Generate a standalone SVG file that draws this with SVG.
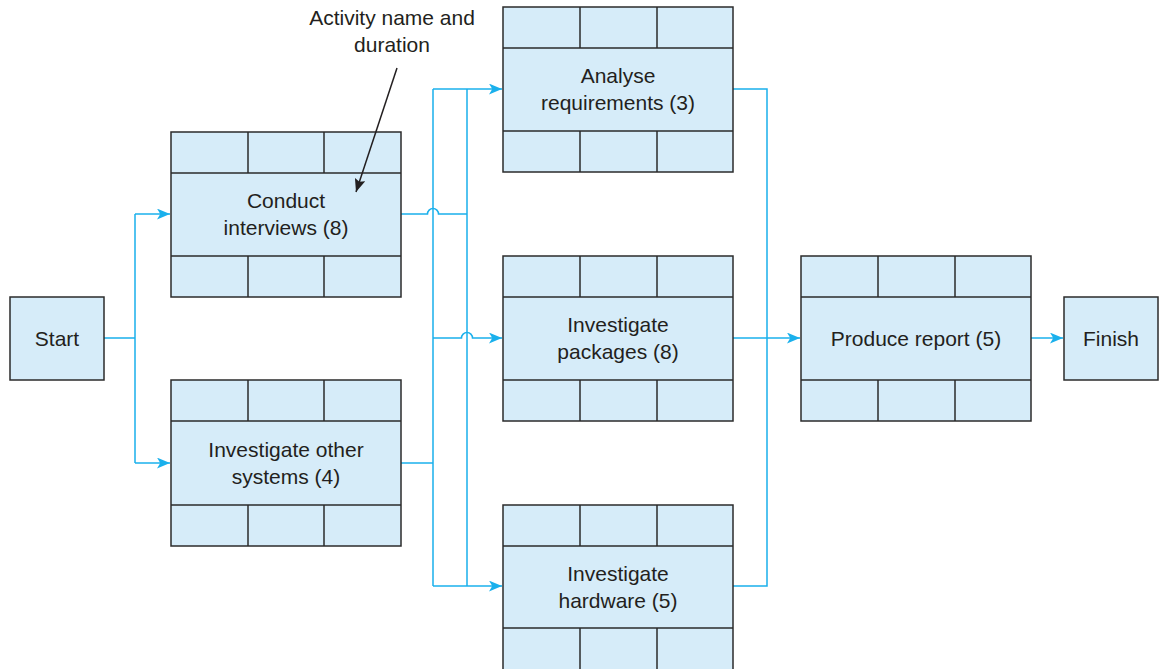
<svg xmlns="http://www.w3.org/2000/svg" width="1159" height="669" viewBox="0 0 1159 669">
<style>
.box{fill:#d6ecf9;stroke:#2b2b2b;stroke-width:1.5}
.div{stroke:#2b2b2b;stroke-width:1.5;fill:none}
.t{font-family:"Liberation Sans",Arial,sans-serif;font-size:21px;fill:#231f20;text-anchor:middle}
.c{fill:none;stroke:#1ab0ec;stroke-width:1.5}
</style>
<defs>
<marker id="ah" viewBox="0 0 12 10" refX="12" refY="5" markerWidth="13" markerHeight="11" markerUnits="userSpaceOnUse" orient="auto">
<path d="M0,0 L12,5 L0,10 L3,5 Z" fill="#1ab0ec"/>
</marker>
<marker id="bh" viewBox="0 0 12 10" refX="12" refY="5" markerWidth="13" markerHeight="11" markerUnits="userSpaceOnUse" orient="auto">
<path d="M0,0 L12,5 L0,10 L2,5 Z" fill="#231f20"/>
</marker>
</defs>
<rect width="1159" height="669" fill="#ffffff"/>

<g id="connectors">
<path class="c" d="M104,338 H135 M135,214 V463"/>
<path class="c" d="M135,214 H170" marker-end="url(#ah)"/>
<path class="c" d="M135,463 H170" marker-end="url(#ah)"/>
<path class="c" d="M401,214 H427.5 A5.5,5.5 0 0 1 438.5,214 H467"/>
<path class="c" d="M401,463 H433"/>
<path class="c" d="M433,89 V586 M467,89 V586"/>
<path class="c" d="M433,89 H502" marker-end="url(#ah)"/>
<path class="c" d="M433,338 H461.5 A5.5,5.5 0 0 1 472.5,338 H502" marker-end="url(#ah)"/>
<path class="c" d="M433,586 H502" marker-end="url(#ah)"/>
<path class="c" d="M733,89 H767 V586 H733"/>
<path class="c" d="M733,338 H800" marker-end="url(#ah)"/>
<path class="c" d="M1031,338 H1063" marker-end="url(#ah)"/>
</g>

<g id="start">
<rect class="box" x="10" y="297" width="94" height="83"/>
<text class="t" x="57" y="346">Start</text>
</g>

<g id="conduct">
<rect class="box" x="171" y="132" width="230" height="165"/>
<path class="div" d="M171,173 H401 M171,256 H401 M248,132 V173 M324,132 V173 M248,256 V297 M324,256 V297"/>
<text class="t" x="286" y="208">Conduct</text>
<text class="t" x="286" y="235">interviews (8)</text>
</g>

<g id="other">
<rect class="box" x="171" y="380" width="230" height="166"/>
<path class="div" d="M171,421 H401 M171,505 H401 M248,380 V421 M324,380 V421 M248,505 V546 M324,505 V546"/>
<text class="t" x="286" y="457">Investigate other</text>
<text class="t" x="286" y="484">systems (4)</text>
</g>

<g id="analyse">
<rect class="box" x="503" y="7" width="230" height="165"/>
<path class="div" d="M503,48 H733 M503,131 H733 M580,7 V48 M657,7 V48 M580,131 V172 M657,131 V172"/>
<text class="t" x="618" y="83">Analyse</text>
<text class="t" x="618" y="110">requirements (3)</text>
</g>

<g id="packages">
<rect class="box" x="503" y="256" width="230" height="165"/>
<path class="div" d="M503,297 H733 M503,380 H733 M580,256 V297 M657,256 V297 M580,380 V421 M657,380 V421"/>
<text class="t" x="618" y="332">Investigate</text>
<text class="t" x="618" y="359">packages (8)</text>
</g>

<g id="hardware">
<rect class="box" x="503" y="505" width="230" height="170"/>
<path class="div" d="M503,546 H733 M503,628 H733 M580,505 V546 M657,505 V546 M580,628 V670 M657,628 V670"/>
<text class="t" x="618" y="581">Investigate</text>
<text class="t" x="618" y="608">hardware (5)</text>
</g>

<g id="report">
<rect class="box" x="801" y="256" width="230" height="165"/>
<path class="div" d="M801,297 H1031 M801,380 H1031 M878,256 V297 M955,256 V297 M878,380 V421 M955,380 V421"/>
<text class="t" x="916" y="346">Produce report (5)</text>
</g>

<g id="finish">
<rect class="box" x="1064" y="297" width="94" height="83"/>
<text class="t" x="1111" y="346">Finish</text>
</g>

<g id="annotation">
<text class="t" x="392" y="25">Activity name and</text>
<text class="t" x="392" y="52">duration</text>
<path d="M397,68 L356,192" stroke="#231f20" stroke-width="1.5" fill="none" marker-end="url(#bh)"/>
</g>
</svg>
